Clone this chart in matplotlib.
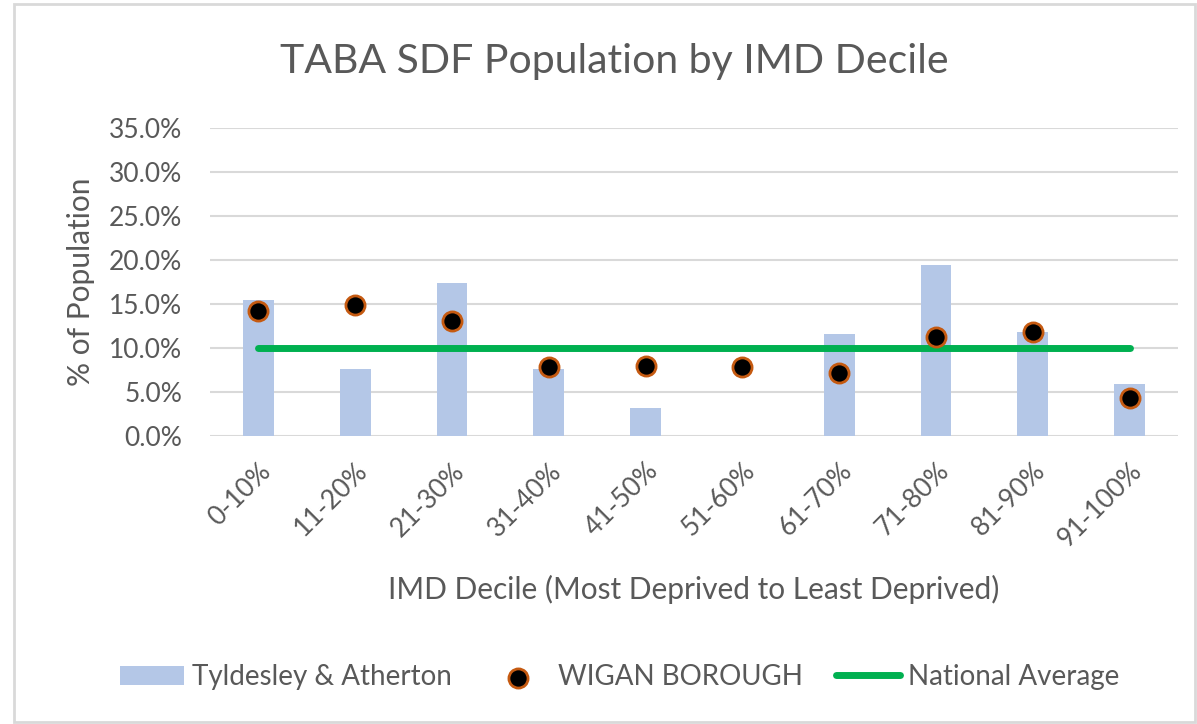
import numpy as np
import matplotlib
matplotlib.use("Agg")
import matplotlib.pyplot as plt
from matplotlib.patches import Rectangle
from matplotlib.ticker import FuncFormatter

plt.rcParams['font.family'] = ['Lato', 'DejaVu Sans']

deciles = ['0-10%', '11-20%', '21-30%', '31-40%', '41-50%',
           '51-60%', '61-70%', '71-80%', '81-90%', '91-100%']
tyldesley = [15.4, 7.6, 17.4, 7.6, 3.2, 0.0, 11.6, 19.4, 11.8, 5.9]
wigan = [14.2, 14.9, 13.1, 7.8, 7.95, 7.8, 7.2, 11.2, 11.8, 4.3]
national = [10.0] * 10

grey = '#595959'
fig = plt.figure(figsize=(11.97, 7.24), dpi=100)
ax = fig.add_axes([210 / 1197, 1 - 436 / 724, 968 / 1197, 308 / 724])

x = np.arange(len(deciles))
b = ax.bar(x, tyldesley, width=0.32, color='#B4C7E7', label='Tyldesley & Atherton', zorder=2)
sc = ax.scatter(x, wigan, s=190, color='black', edgecolors='#C55A11', linewidths=2,
                label='WIGAN BOROUGH', zorder=4)
ln, = ax.plot(x, national, color='#00B050', lw=5, solid_capstyle='round',
              label='National Average', zorder=3)

ax.set_xlim(-0.5, len(deciles) - 0.5)
ax.set_ylim(0, 35)
ax.set_yticks(np.arange(0, 36, 5))
ax.yaxis.set_major_formatter(FuncFormatter(lambda v, p: f'{v:.1f}%'))
ax.grid(axis='y', color='#D9D9D9', lw=1.5, zorder=0)
ax.set_axisbelow(True)
for s in ax.spines.values():
    s.set_visible(False)
ax.tick_params(axis='both', length=0, colors=grey, labelsize=19)
ax.tick_params(axis='y', pad=20)
ax.tick_params(axis='x', pad=16)
ax.set_xticks(x)
ax.set_xticklabels(deciles, rotation=45, ha='right', rotation_mode='anchor')

ax.set_ylabel('% of Population', fontsize=21.5, color=grey, labelpad=10)
ax.set_xlabel('IMD Decile (Most Deprived to Least Deprived)', fontsize=21.5, color=grey, labelpad=17)
fig.text(614 / 1197, 1 - 62 / 724, 'TABA SDF Population by IMD Decile',
         fontsize=29.5, color=grey, ha='center', va='center')

fig.legend([b, sc, ln], ['Tyldesley & Atherton', 'WIGAN BOROUGH', 'National Average'],
           loc='center', bbox_to_anchor=(620 / 1197, 1 - 677 / 724), ncol=3,
           frameon=False, fontsize=20, labelcolor=grey, handlelength=2.3,
           columnspacing=1.2, handletextpad=0.3, scatterpoints=1)

fig.patches.append(Rectangle((14 / 1197, 2 / 724), 1 - 16 / 1197, 1 - 6 / 724,
                             transform=fig.transFigure, fill=False,
                             edgecolor='#D9D9D9', lw=2))

fig.savefig('out.png', dpi=100)
